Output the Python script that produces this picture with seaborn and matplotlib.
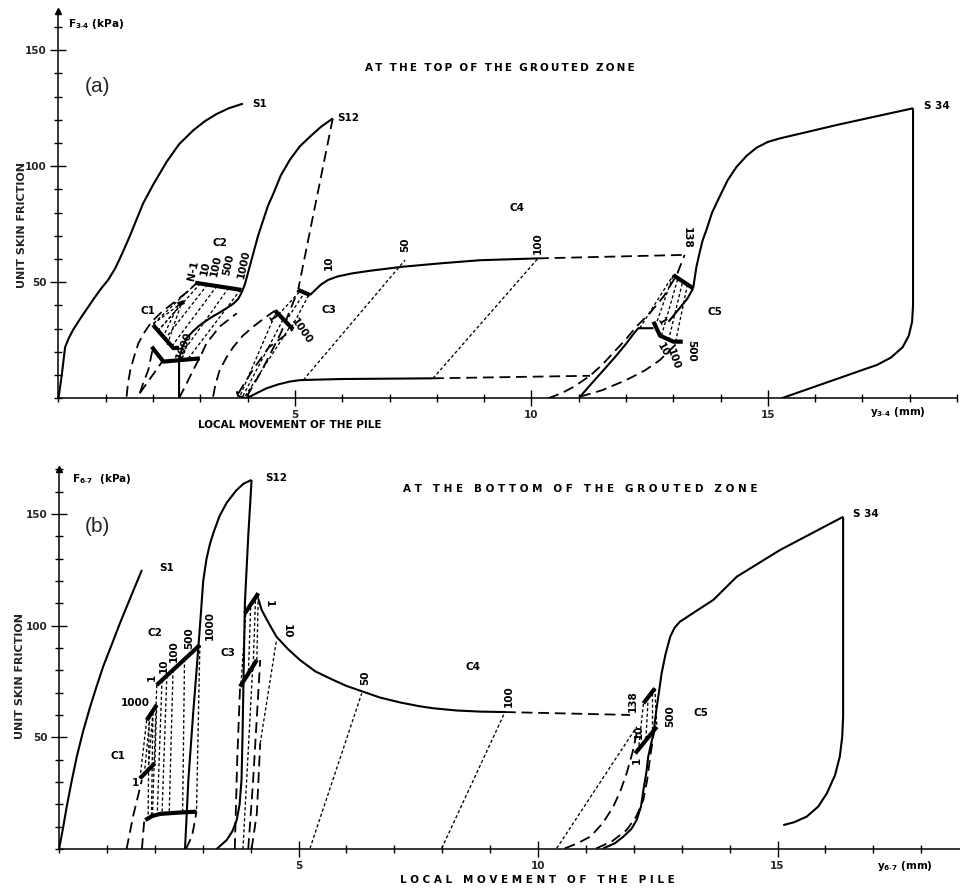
import numpy as np
import pandas as pd
import matplotlib
matplotlib.use("Agg")
import matplotlib.pyplot as plt
from matplotlib.ticker import MultipleLocator, FixedLocator
import seaborn as sns

# ---------------- DATA : panel (a) top of grouted zone ----------------
a_s1_x = [0, 0.07, 0.14, 0.22, 0.31, 0.45, 0.6, 0.75, 0.91, 1.05, 1.2, 1.35, 1.5, 1.65, 1.79, 2.0,
          2.29, 2.55, 2.85, 3.1, 3.34, 3.6, 3.9]
a_s1_y = [0, 10, 22, 26, 29.5, 34, 38.5, 43, 47.5, 51, 56, 62.5, 69.5, 77, 84, 92,
          102, 109.5, 115.5, 119.5, 122.5, 125, 127]
a_s12_x = [2.55, 2.55, 2.62, 2.71, 2.85, 2.99, 3.2, 3.41, 3.57, 3.7, 3.8, 3.87, 3.94, 4.02, 4.12,
           4.22, 4.33, 4.43, 4.54, 4.7, 4.89, 5.1, 5.32, 5.55, 5.8]
a_s12_y = [0, 17, 22, 26, 29, 31.5, 34.5, 37, 39, 40.8, 42.8, 45.5, 49, 55, 62.5,
           70, 76.8, 83, 88, 96, 102.7, 108.5, 112.8, 117, 120.6]
a_s12u_x = [5.8, 5.07]
a_s12u_y = [120.6, 47]
a_c4top_x = [5.32, 5.42, 5.55, 5.7, 5.9, 6.2, 6.6, 7.28, 8.1, 8.91, 10.14]
a_c4top_y = [44.5, 46.5, 49, 51, 52.5, 53.8, 55, 56.7, 58.2, 59.5, 60.3]
a_c4topd_x = [10.14, 13.24]
a_c4topd_y = [60.3, 61.8]
a_c4bot_x = [3.98, 4.2, 4.4, 4.65, 4.89, 5.1, 5.4, 6.0, 7.92]
a_c4bot_y = [0, 2.3, 4.3, 6.0, 7.2, 7.8, 8.0, 8.3, 8.6]
a_c4botd_x = [7.92, 11.24]
a_c4botd_y = [8.6, 9.7]
a_c5d_x = [10.36, 10.65, 10.9, 11.24, 11.5, 11.75, 12.0, 12.22, 12.5, 12.8, 13.07, 13.24]
a_c5d_y = [0, 2.3, 5, 9.7, 14.5, 20, 25.5, 30.9, 36.6, 44, 53, 61.8]
a_c5r_x = [11.03, 11.5, 12.01, 12.4, 12.72, 13.14]
a_c5r_y = [0.7, 3.5, 7.9, 12, 16.5, 25]
a_c5_x = [11.03, 11.3, 11.59, 11.8, 12.01, 12.15, 12.26, 12.58]
a_c5_y = [0.7, 7, 13.6, 18.5, 23.7, 27.5, 30.2, 30.2]
a_c5l_x = [12.9, 13.1, 13.3, 13.42]
a_c5l_y = [33, 38, 43, 47.4]
a_c5tl_x = [12.58, 12.72, 13.0, 13.2]
a_c5tl_y = [33, 27, 24.4, 24.4]
a_c5tu_x = [13.0, 13.42]
a_c5tu_y = [53.1, 47.4]
a_s34_x = [13.42, 13.49, 13.56, 13.62, 13.7, 13.82, 13.98, 14.15, 14.34, 14.55, 14.76, 15.0, 15.25,
           16.5, 18.07]
a_s34_y = [47.4, 56.7, 63, 68, 72.5, 80, 86.9, 94, 99.8, 104.5, 108, 110.5, 112,
           118, 125]
a_s34u_x = [18.07, 18.07, 18.05, 17.98, 17.85, 17.6, 17.3, 17.0, 15.29]
a_s34u_y = [125, 40, 33, 27, 22, 17.5, 14.3, 12.2, 0]
a_d1_x = [1.44, 1.47, 1.52, 1.6, 1.69, 1.82, 1.97, 2.2, 2.46, 2.7, 2.92]
a_d1_y = [0.7, 6.5, 12.2, 18, 23.7, 28.5, 33, 37.5, 41.6, 45.5, 49.6]
a_d2_x = [1.72, 1.8, 1.9, 2.0]
a_d2_y = [2.2, 7, 12.2, 22]
a_d3_x = [1.72, 2.2]
a_d3_y = [2.2, 16]
a_d4_x = [2.55, 2.7, 2.85, 3.0, 3.13, 3.41, 3.77]
a_d4_y = [0, 6, 12.2, 18, 23.7, 30.9, 36.6]
a_d5_x = [3.27, 3.32, 3.41, 3.55, 3.7, 3.9, 4.12, 4.35, 4.58]
a_d5_y = [0.7, 6, 12.2, 17.5, 22.2, 27, 30.9, 34.5, 37.8]
a_d6_x = [3.98, 4.3, 4.7, 5.07]
a_d6_y = [0.7, 12, 28, 46.7]
a_d7_x = [3.8, 4.1, 4.45, 4.96]
a_d7_y = [2, 12, 22, 29.7]
a_hook_x = [3.77, 3.8, 3.98]
a_hook_y = [3, 1, 0]
a_c1u_x = [2.0, 2.43, 2.55]
a_c1u_y = [31.6, 21.6, 21.8]
a_c1l_x = [1.97, 2.22, 2.99]
a_c1l_y = [22.2, 15.8, 17.2]
a_c1m_x = [2.52, 2.66]
a_c1m_y = [40.5, 41.5]
a_c2_x = [2.89, 3.87]
a_c2_y = [49.8, 46.7]
a_c3a_x = [4.58, 4.96]
a_c3a_y = [37.8, 29.7]
a_c3b_x = [5.07, 5.32]
a_c3b_y = [46.7, 44.5]
# dotted connectors (start x, end x, start y, end y)
a_dot_x0 = [2.92, 3.0, 3.15, 3.35, 3.6, 3.85, 2.0, 2.1, 2.2, 2.3, 3.85, 3.9, 3.95, 4.65, 4.8, 4.93, 5.18, 7.92, 12.62, 12.75, 12.9, 13.05, 12.29]
a_dot_x1 = [2.0, 2.1, 2.25, 2.4, 2.6, 2.75, 2.6, 2.62, 2.55, 2.6, 4.6, 4.75, 4.9, 5.1, 5.2, 5.3, 7.33, 10.14, 13.0, 13.1, 13.2, 13.3, 13.0]
a_dot_y0 = [49.6, 49.5, 49, 48.4, 47.6, 46.8, 32, 29, 26, 23, 1.5, 1, 1, 36, 33, 30.5, 7.9, 8.6, 31, 27, 25, 24.4, 30.2]
a_dot_y1 = [32, 29, 25.5, 22.5, 19, 17.3, 41, 41, 41, 41, 37, 34, 31, 46, 45.5, 44.8, 59.6, 60.3, 53.1, 51.8, 50.5, 49, 53.1]

# ---------------- DATA : panel (b) bottom of grouted zone ----------------
b_s1_x = [0, 0.08, 0.16, 0.26, 0.37, 0.5, 0.65, 0.78, 0.92, 1.1, 1.27, 1.5, 1.73]
b_s1_y = [0, 9, 18.9, 30, 41.3, 52.5, 63.7, 72.5, 81.6, 91.5, 101, 113, 124.9]
b_s12_x = [2.63, 2.7, 2.8, 2.91, 2.96, 3.01, 3.08, 3.15, 3.22, 3.35, 3.5, 3.7, 3.85, 4.02]
b_s12_y = [0, 30.9, 60.7, 90.6, 105, 120, 130, 136.5, 141.3, 149, 155, 160.5, 163.5, 165.2]
b_s12d_x = [4.02, 3.95, 3.88, 3.85, 3.83, 3.81, 3.77, 3.71, 3.62, 3.5, 3.29]
b_s12d_y = [165.2, 140, 110, 74, 50, 31, 20, 13, 8, 4, 0]
b_c3u_x = [3.88, 4.16]
b_c3u_y = [105.5, 114.5]
b_c3l_x = [3.78, 4.13]
b_c3l_y = [72.7, 84.6]
b_c4_x = [4.16, 4.23, 4.38, 4.54, 4.78, 5.03, 5.35, 5.73, 6.0, 6.35, 6.7, 7.12, 7.5, 7.81, 8.3, 8.79, 9.31]
b_c4_y = [112, 107, 101, 95, 89.5, 84.6, 79.5, 75.6, 73, 70.4, 67.8, 65.6, 64, 63, 62, 61.5, 61.3]
b_c4d_x = [9.31, 11.92]
b_c4d_y = [61.3, 60]
b_d10_x = [4.02, 4.13, 4.2]
b_d10_y = [0, 16, 47.3]
b_c3d1_x = [3.67, 3.72, 3.78]
b_c3d1_y = [0, 40, 72.7]
b_c3d2_x = [3.95, 4.05, 4.16, 4.2]
b_c3d2_y = [0, 30, 70, 84.6]
b_c1d1_x = [1.41, 1.55, 1.73]
b_c1d1_y = [0, 15, 30.9]
b_c1d2_x = [1.73, 1.78]
b_c1d2_y = [0, 13]
b_c2d_x = [2.65, 2.78, 2.87]
b_c2d_y = [0, 6, 16.7]
b_low_x = [1.8, 1.95, 2.11, 2.5, 2.87]
b_low_y = [13, 14.8, 15.7, 16.3, 16.7]
b_c1a_x = [1.69, 2.0]
b_c1a_y = [31.6, 38.4]
b_c1b_x = [1.83, 2.04]
b_c1b_y = [57.7, 64.5]
b_c2_x = [2.04, 2.94]
b_c2_y = [73.4, 91.3]
b_c5d1_x = [10.56, 10.8, 11.09, 11.35, 11.57, 11.72, 11.85, 11.97, 12.06]
b_c5d1_y = [0.3, 2.3, 5.5, 11.5, 18.9, 26, 33.9, 43, 51.7]
b_c5d2_x = [11.22, 11.55, 11.85, 12.05, 12.2, 12.28, 12.34, 12.44]
b_c5d2_y = [0.3, 3.5, 8.5, 14.5, 22, 31, 41, 55]
b_s34_x = [11.36, 11.6, 11.78, 11.95, 12.06, 12.15, 12.2, 12.26, 12.3, 12.36, 12.41, 12.48, 12.53,
           12.58, 12.66, 12.76, 12.85, 12.96, 13.3, 13.66, 14.15, 15.05, 16.37]
b_s34_y = [0.3, 2.5, 5.5, 9, 13, 19, 26.4, 34, 41.3, 47, 51.8, 63.7, 71,
           78.6, 87, 95, 99, 101.7, 106.5, 111.5, 121.9, 133.8, 148.7]
b_s34u_x = [16.37, 16.37, 16.35, 16.3, 16.2, 16.03, 15.85, 15.61, 15.35, 15.12]
b_s34u_y = [148.7, 59.2, 50, 41.3, 33, 24.9, 19, 14.5, 12, 10.7]
b_c5u_x = [12.2, 12.44]
b_c5u_y = [65.2, 71.9]
b_c5l_x = [12.03, 12.48]
b_c5l_y = [42.8, 54.7]
b_dot_x0 = [4.2, 5.24, 7.99, 10.39, 3.8, 3.95, 4.05, 4.13, 3.84, 2.04, 2.15, 2.25, 2.38, 2.62, 2.94, 1.69, 1.78, 1.86, 2.0, 1.88, 1.96, 12.2, 12.3, 12.38, 12.44]
b_dot_x1 = [4.54, 6.32, 9.31, 12.06, 3.9, 4.0, 4.1, 4.16, 4.05, 1.95, 2.05, 2.15, 2.3, 2.58, 2.87, 1.83, 1.9, 1.96, 2.04, 1.86, 1.93, 12.1, 12.25, 12.38, 12.48]
b_dot_y0 = [47.3, 0.3, 0.3, 0.3, 74, 77, 80, 84.6, 0, 73.4, 75.6, 77.6, 80.2, 85, 91.3, 31.6, 33.5, 35.2, 38.4, 59, 61, 65, 68, 70, 71.9]
b_dot_y1 = [93.5, 69.7, 61.3, 54.7, 106, 108, 111, 114.5, 84, 15, 15.4, 15.8, 16, 16.4, 16.7, 57.7, 59.5, 61.2, 64.5, 14, 14.5, 45, 48, 51, 54.7]

# tick values
x_major = [5, 10, 15]
y_major = [50, 100, 150]

# ---------------- STYLE ----------------
sns.set_theme(style="white")
plt.rcParams['font.family'] = ['DejaVu Sans']
STY = {
    "solid": dict(lw=1.5, dashes=None),
    "thick": dict(lw=3.0, dashes=None),
    "dash": dict(lw=1.3, dashes=(6, 3.2)),
    "dot": dict(lw=0.95, dashes=(2.4, 1.8)),
}

a_curves = [
    (a_s1_x, a_s1_y, "solid"), (a_s12_x, a_s12_y, "solid"), (a_s12u_x, a_s12u_y, "dash"),
    (a_c4top_x, a_c4top_y, "solid"), (a_c4topd_x, a_c4topd_y, "dash"),
    (a_c4bot_x, a_c4bot_y, "solid"), (a_c4botd_x, a_c4botd_y, "dash"),
    (a_c5d_x, a_c5d_y, "dash"), (a_c5r_x, a_c5r_y, "dash"), (a_c5_x, a_c5_y, "solid"),
    (a_c5l_x, a_c5l_y, "solid"), (a_c5tl_x, a_c5tl_y, "thick"), (a_c5tu_x, a_c5tu_y, "thick"),
    (a_s34_x, a_s34_y, "solid"), (a_s34u_x, a_s34u_y, "solid"),
    (a_d1_x, a_d1_y, "dash"), (a_d2_x, a_d2_y, "dash"), (a_d3_x, a_d3_y, "dash"),
    (a_d4_x, a_d4_y, "dash"), (a_d5_x, a_d5_y, "dash"), (a_d6_x, a_d6_y, "dash"),
    (a_d7_x, a_d7_y, "dash"), (a_hook_x, a_hook_y, "solid"),
    (a_c1u_x, a_c1u_y, "thick"), (a_c1l_x, a_c1l_y, "thick"), (a_c1m_x, a_c1m_y, "thick"),
    (a_c2_x, a_c2_y, "thick"), (a_c3a_x, a_c3a_y, "thick"), (a_c3b_x, a_c3b_y, "thick"),
]
a_curves += [([x0, x1], [y0, y1], "dot") for x0, x1, y0, y1 in zip(a_dot_x0, a_dot_x1, a_dot_y0, a_dot_y1)]

b_curves = [
    (b_s1_x, b_s1_y, "solid"), (b_s12_x, b_s12_y, "solid"), (b_s12d_x, b_s12d_y, "solid"),
    (b_c3u_x, b_c3u_y, "thick"), (b_c3l_x, b_c3l_y, "thick"),
    (b_c4_x, b_c4_y, "solid"), (b_c4d_x, b_c4d_y, "dash"), (b_d10_x, b_d10_y, "dash"),
    (b_c3d1_x, b_c3d1_y, "dash"), (b_c3d2_x, b_c3d2_y, "dash"),
    (b_c1d1_x, b_c1d1_y, "dash"), (b_c1d2_x, b_c1d2_y, "dash"), (b_c2d_x, b_c2d_y, "dash"),
    (b_low_x, b_low_y, "thick"), (b_c1a_x, b_c1a_y, "thick"), (b_c1b_x, b_c1b_y, "thick"),
    (b_c2_x, b_c2_y, "thick"), (b_c5d1_x, b_c5d1_y, "dash"), (b_c5d2_x, b_c5d2_y, "dash"),
    (b_s34_x, b_s34_y, "solid"), (b_s34u_x, b_s34u_y, "solid"),
    (b_c5u_x, b_c5u_y, "thick"), (b_c5l_x, b_c5l_y, "thick"),
]
b_curves += [([x0, x1], [y0, y1], "dot") for x0, x1, y0, y1 in zip(b_dot_x0, b_dot_x1, b_dot_y0, b_dot_y1)]

# text labels: (x, y, text, rotation, ha)
a_labels = [
    (4.1, 127, "S1", 0, "left"), (5.9, 121, "S12", 0, "left"), (18.3, 126, "S 34", 0, "left"),
    (1.9, 37.5, "C1", 0, "center"), (3.41, 67, "C2", 0, "center"), (5.56, 38, "C3", 0, "left"),
    (9.69, 82, "C4", 0, "center"), (13.73, 37.3, "C5", 0, "left"),
    (2.85, 55, "N-1", 78, "center"), (3.1, 56, "10", 78, "center"), (3.34, 57, "100", 78, "center"),
    (3.6, 57.5, "500", 78, "center"), (3.92, 58, "1000", 78, "center"),
    (2.65, 23, "1000", 70, "center"), (4.5, 34.5, "1", -60, "center"), (5.15, 29, "1000", -55, "center"),
    (5.72, 58.5, "10", 90, "center"), (7.33, 66, "50", 90, "center"), (10.14, 67, "100", 90, "center"),
    (13.28, 69, "138", -90, "center"), (12.75, 33, "1", -60, "center"), (12.78, 21, "10", -60, "center"),
    (13.0, 17, "100", -70, "center"), (13.38, 20.5, "500", -90, "center"),
]
b_labels = [
    (2.1, 126, "S1", 0, "left"), (4.3, 166, "S12", 0, "left"), (16.58, 150, "S 34", 0, "left"),
    (1.24, 41.5, "C1", 0, "center"), (2.0, 96.5, "C2", 0, "center"), (3.53, 87.6, "C3", 0, "center"),
    (8.65, 81.6, "C4", 0, "center"), (13.25, 60.7, "C5", 0, "left"),
    (1.59, 29.4, "1", 0, "center"), (1.6, 65.2, "1000", 0, "center"),
    (1.94, 77, "1", 90, "center"), (2.18, 82, "10", 90, "center"), (2.39, 88.5, "100", 90, "center"),
    (2.72, 94.5, "500", 90, "center"), (3.15, 100, "1000", 90, "center"),
    (4.37, 110, "1", -90, "center"), (4.75, 97.5, "10", -90, "center"),
    (6.39, 76.5, "50", 90, "center"), (9.38, 68.5, "100", 90, "center"),
    (11.98, 66, "138", 90, "center"), (12.1, 52.5, "10", 90, "center"), (12.06, 39.8, "1", 90, "center"),
    (12.75, 59.5, "500", 90, "center"),
]

FONT = dict(fontsize=7.5, fontweight="bold", color="black", family="DejaVu Sans")


def spaced(text, gap=" ", wordgap="   "):
    return wordgap.join(gap.join(list(w)) for w in text.split(" "))


def draw_panel(ax, curves, labels, xmax, ymax):
    for xs, ys, kind in curves:
        df = pd.DataFrame({"x": xs, "y": ys})
        st = STY[kind]
        sns.lineplot(data=df, x="x", y="y", ax=ax, sort=False, estimator=None,
                     color="black", lw=st["lw"], legend=False)
        ln = ax.lines[-1]
        ln.set_solid_capstyle("butt")
        ln.set_solid_joinstyle("round")
        if st["dashes"] is not None:
            ln.set_dashes(st["dashes"])
    for x, y, t, rot, ha in labels:
        ax.text(x, y, t, rotation=rot, ha=ha, va="center", rotation_mode="anchor", **FONT)
    ax.set_xlim(0, xmax)
    ax.set_ylim(0, ymax)
    ax.set_xlabel("")
    ax.set_ylabel("")
    for s in ("top", "right"):
        ax.spines[s].set_visible(False)
    for s in ("left", "bottom"):
        ax.spines[s].set_color("black")
        ax.spines[s].set_linewidth(1.1)
    ax.xaxis.set_major_locator(FixedLocator(x_major))
    ax.xaxis.set_minor_locator(MultipleLocator(1))
    ax.yaxis.set_major_locator(FixedLocator(y_major))
    ax.yaxis.set_minor_locator(MultipleLocator(10))
    ax.set_xticklabels([str(v) for v in x_major], fontsize=7.5, fontweight="bold")
    ax.set_yticklabels([str(v) for v in y_major], fontsize=7.5, fontweight="bold")
    ax.tick_params(which="major", direction="inout", length=11, width=1.0, color="black",
                   bottom=True, left=True, pad=3)
    ax.tick_params(which="minor", direction="inout", length=6, width=1.0, color="black",
                   bottom=True, left=True)
    ax.plot([0], [ymax], marker="^", ms=5, color="black", clip_on=False)
    ax.set_facecolor("white")
    ax.grid(False)


fig = plt.figure(figsize=(9.6, 8.89), dpi=100)
fig.patch.set_facecolor("white")
ax_a = fig.add_axes([0.0609, 0.552, 0.936, 0.4358])
ax_b = fig.add_axes([0.0615, 0.045, 0.938, 0.4272])
draw_panel(ax_a, a_curves, a_labels, 19.0, 167)
draw_panel(ax_b, b_curves, b_labels, 18.8, 170)


def ftext(px, py, s, **kw):
    fig.text(px / 960, 1 - py / 889, s, **kw)


# panel (a) texts
ftext(97, 86, "(a)", fontsize=15, family="Liberation Sans", ha="center", va="center")
ftext(500, 68, spaced("AT THE TOP OF THE GROUTED ZONE", gap="\u2009", wordgap="  "),
      ha="center", va="center", **FONT)
ftext(22, 225, "UNIT SKIN FRICTION", rotation=90, ha="center", va="center",
      fontsize=8, fontweight="bold", family="DejaVu Sans")
ftext(290, 425, "LOCAL MOVEMENT OF THE PILE", ha="center", va="center", **FONT)
ftext(68, 24, r"F$_{\mathbf{3\text{-}4}}$ (kPa)", ha="left", va="center", **FONT)
ftext(870, 412, r"y$_{\mathbf{3\text{-}4}}$ (mm)", ha="left", va="center", **FONT)

# panel (b) texts
ftext(97, 527, "(b)", fontsize=15, family="Liberation Sans", ha="center", va="center")
ftext(580, 489, spaced("AT THE BOTTOM OF THE GROUTED ZONE"), ha="center", va="center", **FONT)
ftext(20, 676, "UNIT SKIN FRICTION", rotation=90, ha="center", va="center",
      fontsize=8, fontweight="bold", family="DejaVu Sans")
ftext(537, 880, spaced("LOCAL MOVEMENT OF THE PILE"), ha="center", va="center", **FONT)
ftext(72, 479, r"F$_{\mathbf{6\text{-}7}}$  (kPa)", ha="left", va="center", **FONT)
ftext(877, 866, r"y$_{\mathbf{6\text{-}7}}$ (mm)", ha="left", va="center", **FONT)

fig.savefig("out.png", dpi=100, facecolor="white")
